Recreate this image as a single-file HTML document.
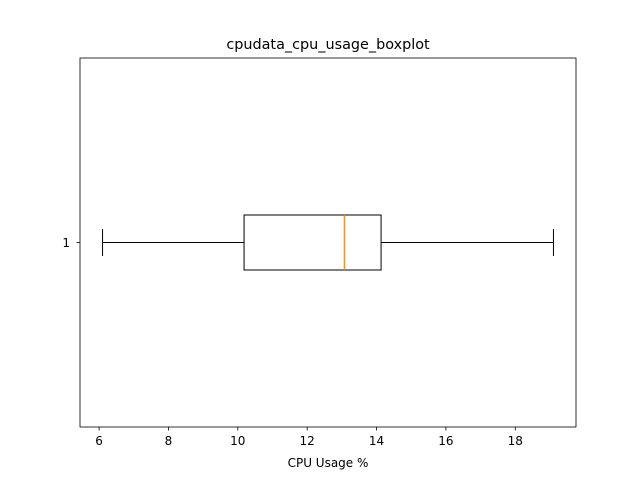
<!DOCTYPE html>
<html>
<head>
<meta charset="utf-8">
<style>
html,body{margin:0;padding:0;background:#fff;}
svg{display:block;font-family:"DejaVu Sans","Liberation Sans",sans-serif;}
</style>
</head>
<body>
<svg id="chart" width="640" height="480" viewBox="0 0 640 480">
<rect x="0" y="0" width="640" height="480" fill="#fff"/>
<text x="328" y="49" font-size="14.4" text-anchor="middle" fill="#000">cpudata_cpu_usage_boxplot</text>
<g id="plot"></g>
<text x="328" y="467" font-size="12" text-anchor="middle" fill="#000">CPU Usage %</text>
</svg>
<script>
const categories = ["1"];
const whiskerLow = [6.1];
const q1Values = [10.18];
const medianValues = [13.07];
const q3Values = [14.13];
const whiskerHigh = [19.1];
const xTicks = [6, 8, 10, 12, 14, 16, 18];

const NS = "http://www.w3.org/2000/svg";
const L = 80, R = 576, T = 58, B = 427;
const xMin = 5.45, xMax = 19.75;
function xs(v){ return L + (v - xMin) / (xMax - xMin) * (R - L); }
function ys(i){ return T + (i + 0.5) / categories.length * (B - T); }
const g = document.getElementById('plot');
function mk(tag, attrs){ const e = document.createElementNS(NS, tag); for (const k in attrs) e.setAttribute(k, attrs[k]); g.appendChild(e); return e; }

categories.forEach((c, i) => {
  const y = ys(i), h = 27.5, cap = 13.5;
  let e;
  e = mk('line', {x1: xs(whiskerLow[i]), x2: xs(q1Values[i]), y1: y, y2: y, stroke: '#000', 'stroke-width': 1});
  
  
  e = mk('line', {x1: xs(q3Values[i]), x2: xs(whiskerHigh[i]), y1: y, y2: y, stroke: '#000', 'stroke-width': 1});
  
  
  e = mk('line', {x1: xs(whiskerLow[i]), x2: xs(whiskerLow[i]), y1: y - cap, y2: y + cap, stroke: '#000', 'stroke-width': 1});
  
  
  e = mk('line', {x1: xs(whiskerHigh[i]), x2: xs(whiskerHigh[i]), y1: y - cap, y2: y + cap, stroke: '#000', 'stroke-width': 1});
  
  
  e = mk('rect', {x: xs(q1Values[i]), y: y - h, width: xs(q3Values[i]) - xs(q1Values[i]), height: 2 * h, fill: 'none', stroke: '#000', 'stroke-width': 1});
  
  
  e = mk('line', {x1: xs(medianValues[i]), x2: xs(medianValues[i]), y1: y - h, y2: y + h, stroke: '#ff7f0e', 'stroke-width': 1.2});
  
  
  e = mk('line', {x1: L - 3.5, x2: L, y1: y, y2: y, stroke: '#000', 'stroke-width': 0.8});
  
  
  e = mk('text', {x: L - 10, y: y + 4.5, 'font-size': 12, 'text-anchor': 'end', fill: '#000'});
  e.textContent = c;
  
  
});

xTicks.forEach(t => {
  let e = mk('line', {x1: xs(t), x2: xs(t), y1: B, y2: B + 3.5, stroke: '#000', 'stroke-width': 0.8});
  
  
  e = mk('text', {x: xs(t), y: B + 18, 'font-size': 12, 'text-anchor': 'middle', fill: '#000'});
  e.textContent = t;
  
  
});

const frame = mk('rect', {x: L, y: T, width: R - L, height: B - T, fill: 'none', stroke: '#000', 'stroke-width': 0.8});


</script>
</body>
</html>
